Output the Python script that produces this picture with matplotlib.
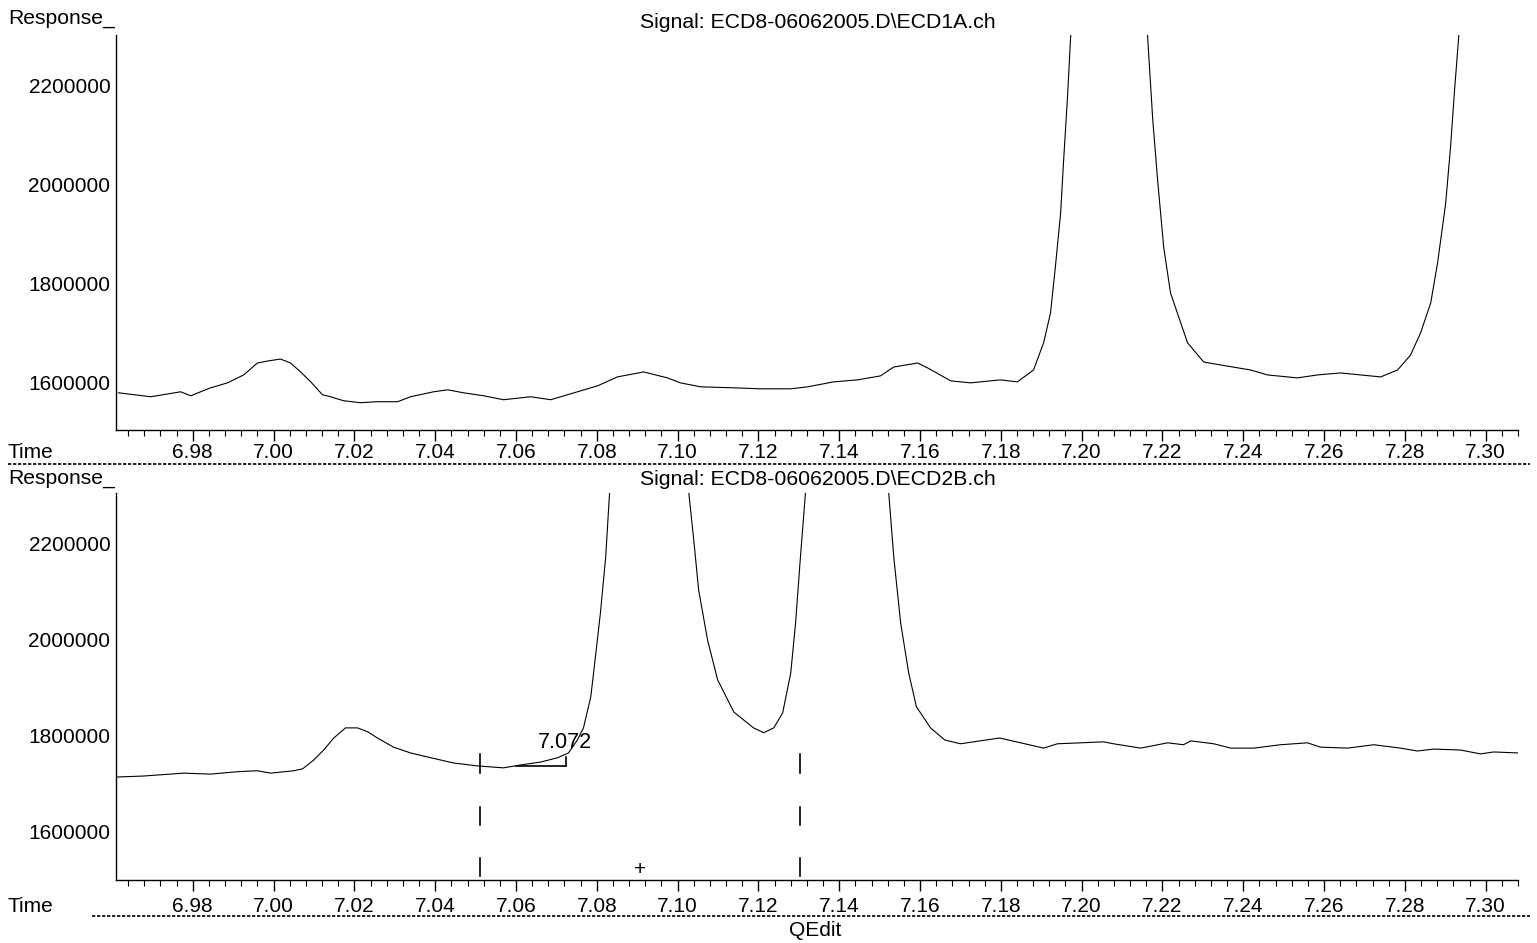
import matplotlib
matplotlib.use("Agg")
import matplotlib.pyplot as plt
from matplotlib.lines import Line2D
from matplotlib.ticker import MultipleLocator, FixedLocator

plt.rcParams['font.family'] = ['Liberation Sans', 'DejaVu Sans']

# ---------------- data ----------------
top_time = [6.9616, 6.9696, 6.9770, 6.9795, 6.9844, 6.9886, 6.9926, 6.9960, 6.9985, 7.0017,
            7.0042, 7.0067, 7.0092, 7.0121, 7.0141, 7.0173, 7.0215, 7.0257, 7.0307, 7.0339,
            7.0396, 7.0431, 7.0470, 7.0520, 7.0569, 7.0636, 7.0686, 7.0752, 7.0802, 7.0851,
            7.0916, 7.0975, 7.1007, 7.1057, 7.1139, 7.1205, 7.1280, 7.1322, 7.1386, 7.1445,
            7.1502, 7.1535, 7.1594, 7.1619, 7.1676, 7.1725, 7.1799, 7.1841, 7.1881, 7.1906,
            7.1923, 7.1935, 7.1948, 7.1955, 7.1965, 7.1973, 7.2070, 7.2163, 7.2176, 7.2188,
            7.2203, 7.2220, 7.2262, 7.2302, 7.2344, 7.2418, 7.2460, 7.2534, 7.2584, 7.2641,
            7.2690, 7.2740, 7.2782, 7.2814, 7.2839, 7.2864, 7.2881, 7.2901, 7.2913, 7.2923,
            7.2933, 7.3000]
top_resp = [1580000, 1572000, 1582000, 1574000, 1590000, 1600000, 1616000, 1640000, 1644000, 1648000,
            1640000, 1622000, 1602000, 1576000, 1572000, 1564000, 1560000, 1562000, 1562000, 1572000,
            1582000, 1586000, 1580000, 1574000, 1566000, 1572000, 1566000, 1582000, 1594000, 1612000,
            1622000, 1610000, 1600000, 1592000, 1590000, 1588000, 1588000, 1592000, 1602000, 1606000,
            1614000, 1632000, 1640000, 1630000, 1604000, 1600000, 1606000, 1602000, 1626000, 1681000,
            1741000, 1834000, 1942000, 2043000, 2176000, 2301000, 4500000, 2301000, 2130000, 2009000,
            1874000, 1781000, 1681000, 1642000, 1636000, 1626000, 1616000, 1610000, 1616000, 1620000,
            1616000, 1612000, 1626000, 1656000, 1701000, 1761000, 1842000, 1962000, 2075000, 2190000,
            2295000, 4000000]

bot_time = [6.9614, 6.9678, 6.9777, 6.9844, 6.9911, 6.9960, 6.9993, 7.0050, 7.0072, 7.0099,
            7.0124, 7.0149, 7.0178, 7.0208, 7.0233, 7.0257, 7.0297, 7.0339, 7.0389, 7.0446,
            7.0505, 7.0569, 7.0611, 7.0661, 7.0703, 7.0730, 7.0752, 7.0767, 7.0785, 7.0792,
            7.0809, 7.0822, 7.0832, 7.0930, 7.1027, 7.1040, 7.1052, 7.1074, 7.1099, 7.1139,
            7.1188, 7.1213, 7.1238, 7.1260, 7.1280, 7.1292, 7.1304, 7.1317, 7.1420, 7.1522,
            7.1535, 7.1552, 7.1572, 7.1591, 7.1626, 7.1661, 7.1700, 7.1797, 7.1849, 7.1906,
            7.1940, 7.1997, 7.2054, 7.2079, 7.2146, 7.2213, 7.2252, 7.2270, 7.2327, 7.2369,
            7.2426, 7.2492, 7.2559, 7.2591, 7.2658, 7.2723, 7.2789, 7.2831, 7.2871, 7.2938,
            7.2987, 7.3020, 7.3079]
bot_resp = [1714000, 1716000, 1722000, 1720000, 1725000, 1727000, 1722000, 1727000, 1731000, 1749000,
            1770000, 1795000, 1816000, 1816000, 1808000, 1795000, 1776000, 1764000, 1754000, 1743000,
            1737000, 1733000, 1739000, 1745000, 1754000, 1764000, 1791000, 1816000, 1880000, 1930000,
            2055000, 2171000, 2310000, 4500000, 2310000, 2206000, 2103000, 1999000, 1916000, 1849000,
            1816000, 1806000, 1816000, 1847000, 1930000, 2034000, 2171000, 2310000, 4500000, 2310000,
            2171000, 2034000, 1930000, 1860000, 1816000, 1791000, 1783000, 1795000, 1785000, 1774000,
            1783000, 1785000, 1787000, 1783000, 1774000, 1785000, 1781000, 1789000, 1783000, 1774000,
            1774000, 1781000, 1785000, 1776000, 1774000, 1781000, 1774000, 1768000, 1772000, 1770000,
            1762000, 1766000, 1764000]

x_ticks = [6.98, 7.00, 7.02, 7.04, 7.06, 7.08, 7.10, 7.12, 7.14, 7.16, 7.18, 7.20, 7.22, 7.24, 7.26, 7.28, 7.30]
y_ticks = [1600000, 1800000, 2000000, 2200000]
titles = ["Signal: ECD8-06062005.D\\ECD1A.ch", "Signal: ECD8-06062005.D\\ECD2B.ch"]

peak_label = "7.072"
peak_label_time = 7.0725
baseline_time = [7.0600, 7.0725]
baseline_resp = [1737000, 1737000]
integration_bounds = [7.0512, 7.1304]
cursor_time = 7.0906
cursor_resp = 1522000

# ---------------- figure ----------------
W, H = 1537, 943
fig = plt.figure(figsize=(W / 100, H / 100), dpi=100)
fig.patch.set_facecolor('white')

def fx(px):
    return px / W

def fy(py):
    return 1 - py / H

ax1 = fig.add_axes([fx(116), fy(430), fx(1518) - fx(116), fy(35) - fy(430)])
ax2 = fig.add_axes([fx(116), fy(880), fx(1518) - fx(116), fy(493) - fy(880)])

ax1.plot(top_time, top_resp, color='black', lw=0.8)
ax2.plot(bot_time, bot_resp, color='black', lw=0.8)

ax1.set_ylim(1505000, 2301000)
ax2.set_ylim(1500000, 2304000)

for ax, pad in ((ax1, 1.5), (ax2, 4)):
    ax.set_xlim(6.961, 7.308)
    ax.spines['top'].set_visible(False)
    ax.spines['right'].set_visible(False)
    ax.spines['left'].set_linewidth(1.0)
    ax.spines['bottom'].set_linewidth(1.0)
    ax.xaxis.set_major_locator(FixedLocator(x_ticks))
    ax.set_xticklabels([f"{v:.2f}" for v in x_ticks])
    ax.xaxis.set_minor_locator(MultipleLocator(0.004))
    ax.yaxis.set_major_locator(FixedLocator(y_ticks))
    ax.set_yticklabels([str(v) for v in y_ticks])
    ax.tick_params(axis='x', which='major', direction='out', length=8, width=1, labelsize=15, pad=pad)
    ax.tick_params(axis='x', which='minor', direction='out', length=4, width=0.8)
    ax.tick_params(axis='y', which='major', length=0, labelsize=15, pad=4)

# peak annotation on lower panel
ax2.plot(baseline_time, baseline_resp, color='black', lw=1.2)
ax2.plot([baseline_time[1], baseline_time[1]], [baseline_resp[1], baseline_resp[1] + 18000], color='black', lw=1.2)
ax2.text(peak_label_time - 0.0003, 1764000, peak_label, ha='center', va='bottom', fontsize=15.5)

# integration bound markers (broken vertical lines)
for xb in integration_bounds:
    for y0, y1 in [(1508000, 1545000), (1615000, 1652000), (1722000, 1762000)]:
        ax2.plot([xb, xb], [y0, y1], color='black', lw=1.2)

ax2.text(cursor_time, cursor_resp, "+", ha='center', va='center', fontsize=15)

# figure texts
fig.text(fx(8), fy(18), "Response_", fontsize=15.2, ha='left', va='center')
fig.text(fx(8), fy(478), "Response_", fontsize=15.2, ha='left', va='center')
fig.text(fx(818), fy(22), titles[0], fontsize=15.3, ha='center', va='center')
fig.text(fx(818), fy(480), titles[1], fontsize=15.3, ha='center', va='center')
fig.text(fx(8), fy(453), "Time", fontsize=15, ha='left', va='center')
fig.text(fx(8), fy(906), "Time", fontsize=15, ha='left', va='center')
fig.text(fx(815), fy(930), "QEdit", fontsize=15, ha='center', va='center')

# dotted rules below the time axes
fig.add_artist(Line2D([fx(8), fx(1530)], [fy(464), fy(464)], color='black', lw=1.2, ls=(0, (2, 1))))
fig.add_artist(Line2D([fx(92), fx(1530)], [fy(916), fy(916)], color='black', lw=1.2, ls=(0, (2, 1))))

fig.savefig("out.png", dpi=100, facecolor='white')
